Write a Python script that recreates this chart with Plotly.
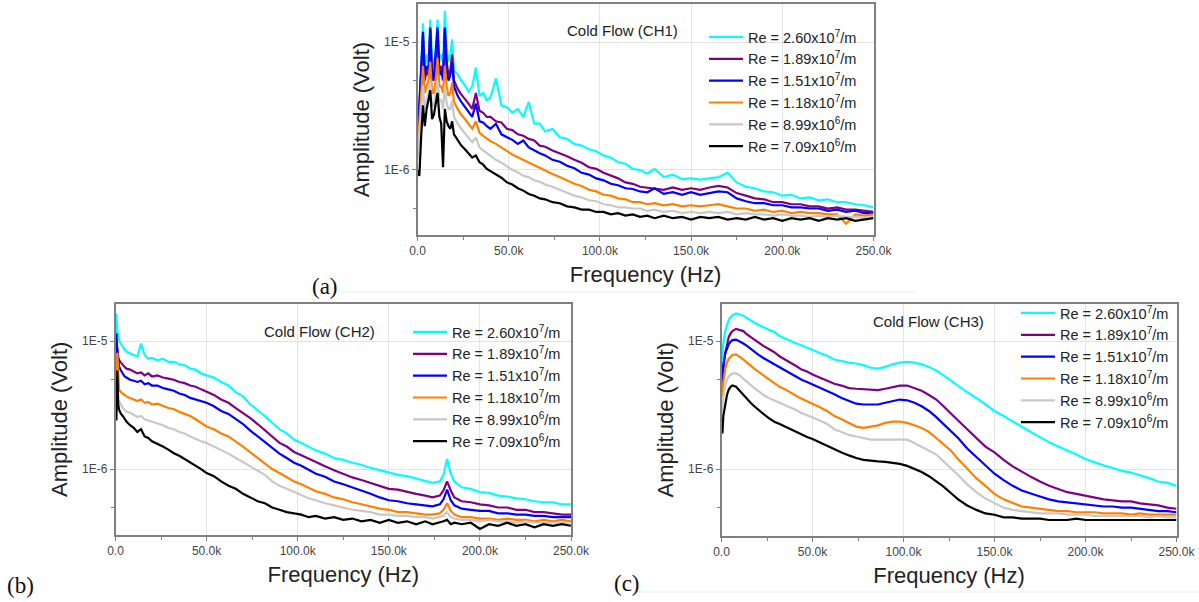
import plotly.graph_objects as go

# ---------------- data (amplitudes in micro-volt, frequencies in kHz) ----------------
SERIES_NAMES = ["Re = 2.60x10<sup>7</sup>/m", "Re = 1.89x10<sup>7</sup>/m", "Re = 1.51x10<sup>7</sup>/m",
                "Re = 1.18x10<sup>7</sup>/m", "Re = 8.99x10<sup>6</sup>/m", "Re = 7.09x10<sup>6</sup>/m"]
SERIES_COLORS = ["#00FFFF", "#800080", "#0000FF", "#FF8000", "#C8C8C8", "#000000"]

FREQ_A = [0, 1, 2, 3, 4, 5, 6, 7, 8, 9, 10, 11, 12, 13, 14, 15, 16, 17, 18, 19, 20,
          22, 24, 26, 28, 30, 32, 34, 36, 38, 40,
          43, 46, 49, 52, 55, 58, 61, 64, 67, 70,
          74, 78, 82, 86, 90, 94, 98, 102, 106, 110, 114, 118, 122, 126, 130,
          135, 140, 145, 150, 155, 160, 165, 170, 175, 180, 185, 190, 195, 200, 205, 210,
          215, 220, 225, 230, 235, 240, 245, 250]

A_CYAN = [1.5, 3.5, 6.0, 14.0, 6.0, 8.0, 7.0, 15.0, 7.0, 6.5, 9.0, 15.0, 7.0, 8.0, 7.0, 17.5, 9.0, 7.0, 8.0, 10.5, 6.0,
          5.6, 5.0, 4.6, 4.1, 4.5, 6.3, 3.8, 4.0, 3.5, 3.7,
          5.2, 3.2, 3.1, 2.8, 3.0, 2.6, 3.4, 2.3, 2.3, 2.0,
          2.1, 1.8, 1.75, 1.6, 1.55, 1.45, 1.4, 1.3, 1.25, 1.15, 1.12, 1.02, 1.0, 0.94, 1.02,
          0.88, 0.92, 0.85, 0.86, 0.84, 0.86, 0.88, 0.95, 0.8, 0.74, 0.72, 0.68, 0.67, 0.63, 0.64, 0.6,
          0.61, 0.58, 0.59, 0.56, 0.56, 0.54, 0.53, 0.51]
A_PURPLE = [1.7, 3.0, 5.0, 11.0, 5.0, 6.0, 5.5, 13.0, 5.5, 5.0, 7.0, 12.0, 6.0, 6.5, 5.5, 12.5, 7.0, 5.5, 6.0, 8.0, 5.0,
            4.3, 3.9, 3.6, 3.3, 3.0, 4.0, 2.9, 2.8, 2.6, 2.6,
            2.4, 2.35, 2.1, 2.05, 1.9, 1.85, 1.75, 1.7, 1.55, 1.52,
            1.42, 1.35, 1.28, 1.2, 1.14, 1.05, 1.02, 0.95, 0.9, 0.86, 0.8, 0.78, 0.74, 0.73, 0.72,
            0.7, 0.73, 0.7, 0.72, 0.7, 0.73, 0.75, 0.73, 0.66, 0.63, 0.6, 0.59, 0.56, 0.56, 0.54, 0.54,
            0.52, 0.52, 0.5, 0.51, 0.49, 0.49, 0.48, 0.47]
A_BLUE = [1.5, 3.5, 6.0, 12.0, 5.5, 6.5, 6.0, 12.5, 5.0, 5.5, 8.0, 13.0, 5.5, 6.0, 5.0, 13.0, 6.0, 5.0, 5.5, 7.0, 4.5,
          3.8, 3.4, 3.1, 2.8, 2.6, 3.3, 2.4, 2.35, 2.2, 2.1,
          2.3, 1.9, 1.8, 1.72, 1.6, 1.7, 1.5, 1.42, 1.35, 1.3,
          1.2, 1.16, 1.08, 1.03, 0.95, 0.92, 0.86, 0.83, 0.78, 0.76, 0.72, 0.71, 0.68, 0.67, 0.72,
          0.65, 0.67, 0.64, 0.67, 0.64, 0.66, 0.68, 0.67, 0.6, 0.57, 0.55, 0.55, 0.53, 0.53, 0.51, 0.51,
          0.5, 0.5, 0.48, 0.49, 0.47, 0.48, 0.46, 0.46]
A_ORANGE = [1.4, 2.5, 4.0, 6.5, 4.0, 4.5, 5.0, 7.0, 4.0, 4.0, 5.0, 7.5, 4.5, 4.5, 4.0, 6.5, 4.5, 3.8, 4.0, 4.8, 3.4,
            3.0, 2.7, 2.5, 2.3, 2.1, 2.4, 1.95, 1.85, 1.75, 1.68,
            1.6, 1.5, 1.42, 1.32, 1.26, 1.2, 1.15, 1.08, 1.03, 0.98,
            0.93, 0.88, 0.83, 0.78, 0.75, 0.7, 0.68, 0.64, 0.63, 0.6, 0.59, 0.56, 0.56, 0.54, 0.55,
            0.53, 0.54, 0.52, 0.53, 0.52, 0.53, 0.54, 0.52, 0.5, 0.5, 0.48, 0.49, 0.47, 0.48, 0.46, 0.47,
            0.46, 0.46, 0.45, 0.45, 0.38, 0.45, 0.44, 0.45]
A_GRAY = [1.2, 2.0, 3.0, 4.5, 3.0, 3.5, 4.0, 5.0, 3.2, 3.2, 4.0, 5.0, 3.5, 3.5, 3.0, 4.5, 3.3, 3.0, 3.0, 3.5, 2.6,
          2.3, 2.1, 1.95, 1.8, 1.65, 1.8, 1.5, 1.42, 1.35, 1.3,
          1.2, 1.14, 1.06, 1.0, 0.96, 0.9, 0.88, 0.83, 0.81, 0.77,
          0.74, 0.7, 0.67, 0.63, 0.61, 0.58, 0.57, 0.54, 0.53, 0.51, 0.51, 0.5, 0.5, 0.48, 0.49,
          0.47, 0.48, 0.46, 0.47, 0.46, 0.47, 0.46, 0.47, 0.45, 0.46, 0.45, 0.45, 0.44, 0.45, 0.44, 0.44,
          0.43, 0.44, 0.43, 0.44, 0.43, 0.43, 0.42, 0.43]
A_BLACK = [1.0, 0.9, 1.8, 3.2, 2.2, 3.0, 3.5, 4.2, 2.5, 2.7, 3.3, 4.0, 2.6, 2.3, 1.05, 3.0, 2.4, 2.2, 2.1, 2.4, 1.9,
           1.7, 1.55, 1.45, 1.35, 1.25, 1.3, 1.15, 1.1, 1.02, 0.98,
           0.92, 0.87, 0.8, 0.77, 0.72, 0.69, 0.65, 0.63, 0.6, 0.59,
           0.56, 0.55, 0.52, 0.51, 0.49, 0.49, 0.47, 0.47, 0.45, 0.46, 0.44, 0.45, 0.43, 0.44, 0.42,
           0.44, 0.42, 0.43, 0.41, 0.43, 0.42, 0.43, 0.41, 0.42, 0.41, 0.43, 0.41, 0.42, 0.4, 0.42, 0.41,
           0.42, 0.4, 0.42, 0.41, 0.42, 0.4, 0.41, 0.42]

FREQ_B = [0, 0.5, 1, 1.5, 2, 3, 4, 5, 6, 8, 10, 12, 14, 16, 18, 20,
          23, 26, 29, 32, 35, 38, 41, 44, 47, 50,
          54, 58, 62, 66, 70, 74, 78, 82, 86, 90, 94, 98, 102, 106, 110,
          115, 120, 125, 130, 135, 140, 145, 150, 155, 160, 165, 170,
          174, 178, 180, 182, 184, 186,
          190, 195, 200, 205, 210, 215, 220, 225, 230, 235, 240, 245, 250]

B_CYAN = [9.6, 16.5, 12.0, 10.5, 10.2, 9.5, 9.0, 8.6, 8.3, 8.0, 7.8, 7.6, 9.6, 7.8, 7.3, 7.4,
          7.1, 7.3, 6.9, 6.9, 6.6, 6.5, 6.1, 6.0, 5.6, 5.4,
          5.2, 4.8, 4.5, 4.0, 3.7, 3.2, 2.9, 2.6, 2.3, 2.05, 1.9, 1.7, 1.6, 1.5, 1.4,
          1.32, 1.22, 1.18, 1.12, 1.08, 1.02, 0.98, 0.94, 0.9, 0.88, 0.84, 0.8,
          0.78, 0.8, 0.9, 1.2, 0.92, 0.8,
          0.72, 0.7, 0.66, 0.65, 0.62, 0.61, 0.59, 0.58, 0.56, 0.55, 0.55, 0.53, 0.53]
B_PURPLE = [7.5, 8.5, 9.0, 7.5, 7.1, 6.8, 6.5, 6.3, 6.1, 6.0, 5.8, 5.6, 5.7, 5.4, 5.6, 5.3,
            5.4, 5.2, 5.1, 5.0, 4.8, 4.7, 4.5, 4.4, 4.2, 4.0,
            3.8, 3.5, 3.3, 3.0, 2.75, 2.5, 2.25, 2.0, 1.8, 1.6, 1.5, 1.36, 1.28, 1.2, 1.14,
            1.05, 0.98, 0.92, 0.86, 0.82, 0.78, 0.74, 0.7, 0.69, 0.66, 0.64, 0.62,
            0.6, 0.62, 0.68, 0.8, 0.68, 0.6,
            0.56, 0.55, 0.53, 0.52, 0.5, 0.5, 0.48, 0.48, 0.46, 0.46, 0.45, 0.44, 0.44]
B_BLUE = [8.5, 11.5, 8.0, 7.0, 6.3, 5.9, 5.6, 5.3, 5.2, 5.0, 4.9, 4.8, 4.9, 4.6, 4.7, 4.5,
          4.5, 4.3, 4.2, 4.1, 3.9, 3.8, 3.6, 3.5, 3.4, 3.3,
          3.1, 2.85, 2.7, 2.45, 2.25, 2.0, 1.8, 1.62, 1.48, 1.32, 1.22, 1.12, 1.06, 0.98, 0.92,
          0.87, 0.8, 0.76, 0.72, 0.68, 0.64, 0.6, 0.57, 0.56, 0.54, 0.53, 0.52,
          0.51, 0.53, 0.58, 0.69, 0.57, 0.52,
          0.49, 0.48, 0.47, 0.47, 0.45, 0.45, 0.44, 0.44, 0.43, 0.43, 0.42, 0.42, 0.42]
B_ORANGE = [5.5, 6.3, 8.1, 5.0, 4.15, 4.0, 3.9, 3.8, 3.7, 3.6, 3.5, 3.4, 3.5, 3.3, 3.35, 3.2,
            3.25, 3.1, 3.0, 2.95, 2.8, 2.7, 2.6, 2.45, 2.3, 2.15,
            2.05, 1.9, 1.8, 1.65, 1.5, 1.35, 1.22, 1.1, 1.0, 0.93, 0.86, 0.8, 0.76, 0.71, 0.67,
            0.64, 0.6, 0.58, 0.55, 0.53, 0.51, 0.49, 0.48, 0.46, 0.46, 0.45, 0.44,
            0.44, 0.45, 0.48, 0.54, 0.47, 0.44,
            0.42, 0.42, 0.41, 0.41, 0.4, 0.41, 0.4, 0.4, 0.39, 0.4, 0.39, 0.4, 0.39]
B_GRAY = [4.2, 4.7, 3.6, 3.5, 3.45, 3.2, 3.0, 2.9, 2.8, 2.75, 2.65, 2.55, 2.6, 2.45, 2.4, 2.35,
          2.3, 2.2, 2.1, 2.05, 1.95, 1.9, 1.8, 1.72, 1.65, 1.6,
          1.5, 1.42, 1.32, 1.22, 1.14, 1.05, 0.97, 0.9, 0.8, 0.74, 0.7, 0.66, 0.62, 0.59, 0.57,
          0.54, 0.52, 0.5, 0.48, 0.47, 0.46, 0.44, 0.44, 0.43, 0.43, 0.42, 0.42,
          0.41, 0.42, 0.43, 0.46, 0.42, 0.41,
          0.4, 0.4, 0.39, 0.4, 0.39, 0.39, 0.38, 0.39, 0.38, 0.38, 0.38, 0.38, 0.38]
B_BLACK = [4.4, 2.4, 5.9, 3.2, 2.9, 2.7, 2.6, 2.45, 2.35, 2.2, 2.1, 1.95, 2.05, 1.8, 1.75, 1.65,
           1.58, 1.5, 1.42, 1.33, 1.27, 1.2, 1.12, 1.06, 1.0, 0.93,
           0.88, 0.8, 0.74, 0.7, 0.64, 0.6, 0.56, 0.54, 0.5, 0.48, 0.46, 0.45, 0.44, 0.42, 0.43,
           0.41, 0.42, 0.4, 0.41, 0.39, 0.4, 0.38, 0.4, 0.38, 0.39, 0.37, 0.39,
           0.37, 0.38, 0.39, 0.4, 0.37, 0.38,
           0.37, 0.38, 0.34, 0.37, 0.36, 0.38, 0.36, 0.37, 0.35, 0.37, 0.36, 0.37, 0.36]

FREQ_C = [0, 0.5, 1, 2, 3, 4, 5, 6, 8, 10, 12, 14, 16, 18, 20,
          23, 26, 29, 32, 35, 38, 41, 44, 47, 50,
          54, 58, 62, 66, 70, 74, 78, 82, 86, 90, 94, 98, 102, 106, 110, 114, 118, 122, 126, 130,
          135, 140, 145, 150, 155, 160, 165, 170, 175, 180, 185, 190, 195, 200, 205, 210,
          215, 220, 225, 230, 235, 240, 245, 250]

C_CYAN = [6.3, 8.0, 9.5, 12.0, 13.5, 14.8, 15.4, 16.0, 16.5, 16.2, 15.8, 15.2, 14.5, 14.0, 13.5,
          12.8, 12.3, 11.8, 11.0, 10.5, 10.0, 9.6, 9.3, 8.9, 8.5,
          8.1, 7.7, 7.2, 7.0, 6.8, 6.7, 6.5, 6.2, 6.1, 6.3, 6.6, 6.8, 6.9, 6.8, 6.6, 6.3, 5.9, 5.4, 4.9, 4.5,
          4.0, 3.6, 3.2, 2.85, 2.6, 2.35, 2.15, 1.95, 1.78, 1.62, 1.5, 1.4, 1.3, 1.2, 1.13, 1.07,
          1.02, 0.97, 0.94, 0.9, 0.85, 0.8, 0.78, 0.74]
C_PURPLE = [3.9, 5.0, 6.0, 8.0, 9.5, 10.8, 11.5, 12.0, 12.5, 12.3, 12.0, 11.3, 10.8, 10.2, 9.8,
            9.2, 8.7, 8.2, 7.6, 7.2, 6.8, 6.4, 6.0, 5.8, 5.5,
            5.2, 4.9, 4.65, 4.5, 4.3, 4.25, 4.2, 4.2, 4.15, 4.25, 4.4, 4.5, 4.5, 4.3, 4.1, 3.8, 3.5, 3.1, 2.75, 2.4,
            2.05, 1.75, 1.5, 1.35, 1.18, 1.05, 0.95, 0.87, 0.8, 0.74, 0.7, 0.66, 0.64, 0.62, 0.6, 0.58,
            0.57, 0.56, 0.56, 0.54, 0.53, 0.52, 0.5, 0.49]
C_BLUE = [4.6, 5.5, 6.5, 8.0, 8.8, 9.5, 9.9, 10.2, 10.3, 10.0, 9.6, 9.2, 8.7, 8.3, 7.9,
          7.4, 7.0, 6.6, 6.2, 5.9, 5.6, 5.3, 5.0, 4.8, 4.6,
          4.3, 4.05, 3.85, 3.6, 3.4, 3.25, 3.2, 3.2, 3.2, 3.3, 3.4, 3.5, 3.45, 3.3, 3.1, 2.85, 2.55, 2.25, 2.0, 1.75,
          1.45, 1.25, 1.07, 0.92, 0.82, 0.74, 0.68, 0.64, 0.61, 0.58, 0.56, 0.55, 0.54, 0.53, 0.52, 0.51,
          0.51, 0.5, 0.5, 0.49, 0.48, 0.47, 0.47, 0.46]
C_ORANGE = [3.2, 4.0, 4.8, 6.0, 6.8, 7.3, 7.6, 7.8, 7.9, 7.6, 7.2, 6.8, 6.4, 6.1, 5.8,
            5.4, 5.0, 4.7, 4.4, 4.2, 3.95, 3.75, 3.55, 3.4, 3.25,
            3.05, 2.85, 2.6, 2.45, 2.3, 2.15, 2.1, 2.15, 2.2, 2.3, 2.35, 2.35, 2.3, 2.2, 2.1, 1.95, 1.75, 1.55, 1.4, 1.2,
            1.0, 0.85, 0.74, 0.64, 0.58, 0.54, 0.51, 0.5, 0.49, 0.48, 0.47, 0.47, 0.46, 0.46, 0.46, 0.45,
            0.45, 0.45, 0.44, 0.45, 0.44, 0.44, 0.44, 0.44]
C_GRAY = [2.6, 3.2, 3.7, 4.5, 5.0, 5.3, 5.5, 5.6, 5.6, 5.4, 5.1, 4.8, 4.5, 4.3, 4.1,
          3.8, 3.6, 3.45, 3.3, 3.2, 3.05, 2.9, 2.75, 2.65, 2.55,
          2.4, 2.25, 2.05, 1.95, 1.85, 1.8, 1.75, 1.7, 1.7, 1.7, 1.72, 1.72, 1.7, 1.6, 1.5, 1.4, 1.3, 1.15, 1.02, 0.9,
          0.76, 0.66, 0.59, 0.54, 0.5, 0.48, 0.47, 0.46, 0.45, 0.45, 0.45, 0.44, 0.44, 0.44, 0.43, 0.43,
          0.43, 0.43, 0.43, 0.43, 0.42, 0.43, 0.42, 0.42]
C_BLACK = [2.0, 1.9, 2.6, 3.3, 3.8, 4.2, 4.4, 4.5, 4.4, 4.1, 3.8, 3.5, 3.3, 3.1, 2.95,
           2.7, 2.5, 2.35, 2.25, 2.15, 2.05, 1.95, 1.85, 1.78, 1.72,
           1.62, 1.52, 1.42, 1.35, 1.28, 1.22, 1.18, 1.16, 1.15, 1.14, 1.12, 1.1, 1.06, 1.0, 0.95, 0.88, 0.8, 0.73, 0.65, 0.58,
           0.52, 0.48, 0.45, 0.44, 0.42, 0.42, 0.41, 0.41, 0.41, 0.4, 0.4, 0.4, 0.41, 0.4, 0.4, 0.4,
           0.4, 0.4, 0.4, 0.4, 0.4, 0.4, 0.4, 0.4]

PANELS = [
    ("a", FREQ_A, [A_CYAN, A_PURPLE, A_BLUE, A_ORANGE, A_GRAY, A_BLACK], "Cold Flow (CH1)"),
    ("b", FREQ_B, [B_CYAN, B_PURPLE, B_BLUE, B_ORANGE, B_GRAY, B_BLACK], "Cold Flow (CH2)"),
    ("c", FREQ_C, [C_CYAN, C_PURPLE, C_BLUE, C_ORANGE, C_GRAY, C_BLACK], "Cold Flow (CH3)"),
]
for _, fr, vals, _t in PANELS:
    for v in vals:
        assert len(v) == len(fr), (len(v), len(fr))

X_TICKS = [0, 50000, 100000, 150000, 200000, 250000]
X_TICKTEXT = ["0.0", "50.0k", "100.0k", "150.0k", "200.0k", "250.0k"]
X_MINOR = [25000, 75000, 125000, 175000, 225000]
Y_TICKS = [1e-6, 1e-5]
Y_TICKTEXT = ["1E-6", "1E-5"]
Y_MINOR = [5e-7, 5e-6]

# ---------------- layout geometry (pixels of the 1199x602 page) ----------------
W, H = 1199, 602
def px(x):
    return x / W
def py(y):
    return 1 - y / H

BOXES = {  # left, right, top, bottom in pixels
    "a": (417.5, 873.5, 4, 235),
    "b": (115.5, 571, 303.5, 535),
    "c": (721.5, 1176.5, 303.5, 536),
}
Y_RANGES = {"a": (-6.508, -4.703), "b": (-6.516, -4.705), "c": (-6.523, -4.705)}
LEGEND_POS = {"a": (704, 21), "b": (408, 316), "c": (1016, 297)}
NOTE_POS = {"a": (622, 31), "b": (319, 332), "c": (928, 321)}
PANEL_LABEL_POS = {"a": (325, 286), "b": (21, 585), "c": (627, 583)}

FONT = "Liberation Sans, Arial, sans-serif"
fig = go.Figure()

for i, (key, freq, vals, note) in enumerate(PANELS):
    n = "" if i == 0 else str(i + 1)
    legend_id = "legend" + n
    for name, color, v in zip(SERIES_NAMES, SERIES_COLORS, vals):
        fig.add_trace(go.Scatter(
            x=[f * 1000 for f in freq], y=[a * 1e-6 for a in v],
            mode="lines", name=name, line=dict(color=color, width=2.2),
            xaxis="x" + n, yaxis="y" + n, legend=legend_id))
    l, r, t, b = BOXES[key]
    axis_common = dict(showline=True, linecolor="#808080", linewidth=1.5, mirror=True,
                       ticks="outside", ticklen=4, tickcolor="#808080", automargin=False,
                       showgrid=True, gridcolor="#e3e3e3", gridwidth=1, zeroline=False,
                       tickfont=dict(family=FONT, size=12, color="#444444"))
    fig.update_layout(**{
        "xaxis" + n: dict(domain=[px(l), px(r)], anchor="y" + n, range=[0, 250000],
                          tickvals=X_TICKS, ticktext=X_TICKTEXT,
                          minor=dict(tickvals=X_MINOR, ticks="outside", ticklen=3, tickcolor="#808080", showgrid=False),
                          title=dict(text="Frequency (Hz)", standoff=9,
                                     font=dict(family=FONT, size=22, color="#222222")),
                          **axis_common),
        "yaxis" + n: dict(domain=[py(b), py(t)], anchor="x" + n, type="log", range=list(Y_RANGES[key]),
                          tickvals=Y_TICKS, ticktext=Y_TICKTEXT,
                          minor=dict(tickvals=Y_MINOR, ticks="outside", ticklen=3, tickcolor="#808080", showgrid=False),
                          title=dict(text="Amplitude (Volt)", standoff=8,
                                     font=dict(family=FONT, size=22, color="#222222")),
                          **axis_common),
        legend_id: dict(x=px(LEGEND_POS[key][0]), y=py(LEGEND_POS[key][1]), xanchor="left", yanchor="top",
                        bgcolor="rgba(0,0,0,0)", borderwidth=0, itemwidth=34,
                        font=dict(family=FONT, size=14.5, color="#222222"), tracegroupgap=0),
    })
    fig.add_annotation(x=px(NOTE_POS[key][0]), y=py(NOTE_POS[key][1]), xref="paper", yref="paper",
                       text=note, showarrow=False, xanchor="center", yanchor="middle",
                       font=dict(family=FONT, size=15, color="#222222"))
    fig.add_annotation(x=px(PANEL_LABEL_POS[key][0]), y=py(PANEL_LABEL_POS[key][1]), xref="paper", yref="paper",
                       text="(" + key + ")", showarrow=False, xanchor="center", yanchor="middle",
                       font=dict(family="Liberation Serif, Times New Roman, serif", size=23, color="#111111"))

# faint page separators of the original figure
for x0, x1, y0 in [(338, 915, 292), (633, 1199, 592)]:
    fig.add_shape(type="line", xref="paper", yref="paper", x0=px(x0), x1=px(x1), y0=py(y0), y1=py(y0),
                  line=dict(color="#ececec", width=1))

fig.update_layout(width=W, height=H, margin=dict(l=0, r=0, t=0, b=0, autoexpand=False),
                  paper_bgcolor="white", plot_bgcolor="white", showlegend=True)
fig.write_html("out.html", config={"displayModeBar": False},
               post_script="document.body.style.margin='0';document.body.style.overflow='hidden';")
